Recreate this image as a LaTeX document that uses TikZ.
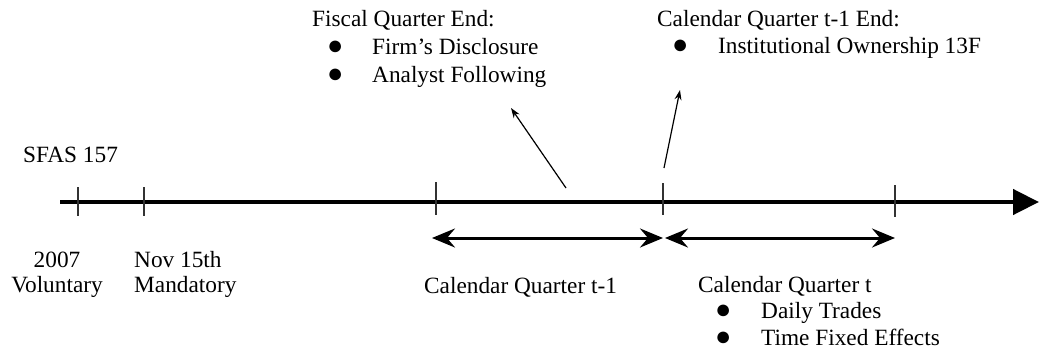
\documentclass[tikz,border=0pt]{standalone}
\usepackage{fontspec}
\setmainfont{Liberation Serif}
\usetikzlibrary{arrows.meta}
\begin{document}
\begin{tikzpicture}[x=1pt,y=-1pt,
  lbl/.style={anchor=base west,inner sep=0pt,font=\fontsize{23.3}{27}\selectfont},
  lblc/.style={anchor=base,inner sep=0pt,font=\fontsize{23.3}{27}\selectfont},
  bul/.style={anchor=base west,inner sep=0pt,font=\fontsize{27}{27}\selectfont},
  timeline/.style={line width=4.5pt,-{Triangle[length=26pt,width=25pt]}},
  tick/.style={line width=1.3pt,black!80},
  span/.style={line width=3pt,{Stealth[length=23pt,width=19pt,inset=8pt]}-{Stealth[length=23pt,width=19pt,inset=8pt]}},
  pointer/.style={line width=1.2pt,-{Stealth[length=10pt,width=7pt]}}]
\useasboundingbox (0,0) rectangle (1039,356);
% timeline
\coordinate (ts) at (60,202);
\coordinate (te) at (1039,202);
\draw[timeline] (ts) -- (te);
% ticks
\foreach \n/\x/\a/\b in {t1/78/187/216,t2/144/187/216,t3/436/182/215,t4/663/183/215,t5/895/185/217}{
  \coordinate (\n a) at (\x,\a);
  \coordinate (\n b) at (\x,\b);
  \draw[tick] (\n a) -- (\n b);
}
% spans
\coordinate (s1a) at (432,238);
\coordinate (s1b) at (663,238);
\coordinate (s2a) at (665,238);
\coordinate (s2b) at (895,238);
\draw[span] (s1a) -- (s1b);
\draw[span] (s2a) -- (s2b);
% labels
\node[lbl] (sfas) at (23,162) {SFAS 157};
\node[lblc] (y2007) at (57,267) {2007};
\node[lblc] (vol) at (57,292) {Voluntary};
\node[lbl] (nov) at (134,267) {Nov 15th};
\node[lbl] (mand) at (134,292) {Mandatory};
\node[lbl] (fq) at (312,26) {Fiscal Quarter End:};
\node[bul] (fqb1) at (327,54) {●};
\node[lbl] (fq1) at (372,54) {Firm’s Disclosure};
\node[bul] (fqb2) at (327,82) {●};
\node[lbl] (fq2) at (372,82) {Analyst Following};
\node[lbl] (cq) at (657,26) {Calendar Quarter t-1 End:};
\node[bul] (cqb1) at (672,53) {●};
\node[lbl] (cq1) at (718,53) {Institutional Ownership 13F};
\node[lbl] (q1) at (424,293) {Calendar Quarter t-1};
\node[lbl] (qt) at (698,292) {Calendar Quarter t};
\node[bul] (qtb1) at (715,318) {●};
\node[lbl] (qt1) at (761,318) {Daily Trades};
\node[bul] (qtb2) at (715,345) {●};
\node[lbl] (qt2) at (761,345) {Time Fixed Effects};
% pointers
\coordinate (p1s) at (566,188);
\coordinate (p1e) at (511,108);
\coordinate (p2s) at (664,168);
\coordinate (p2e) at (680,90);
\draw[pointer] (p1s) -- (p1e);
\draw[pointer] (p2s) -- (p2e);
\end{tikzpicture}
\end{document}
